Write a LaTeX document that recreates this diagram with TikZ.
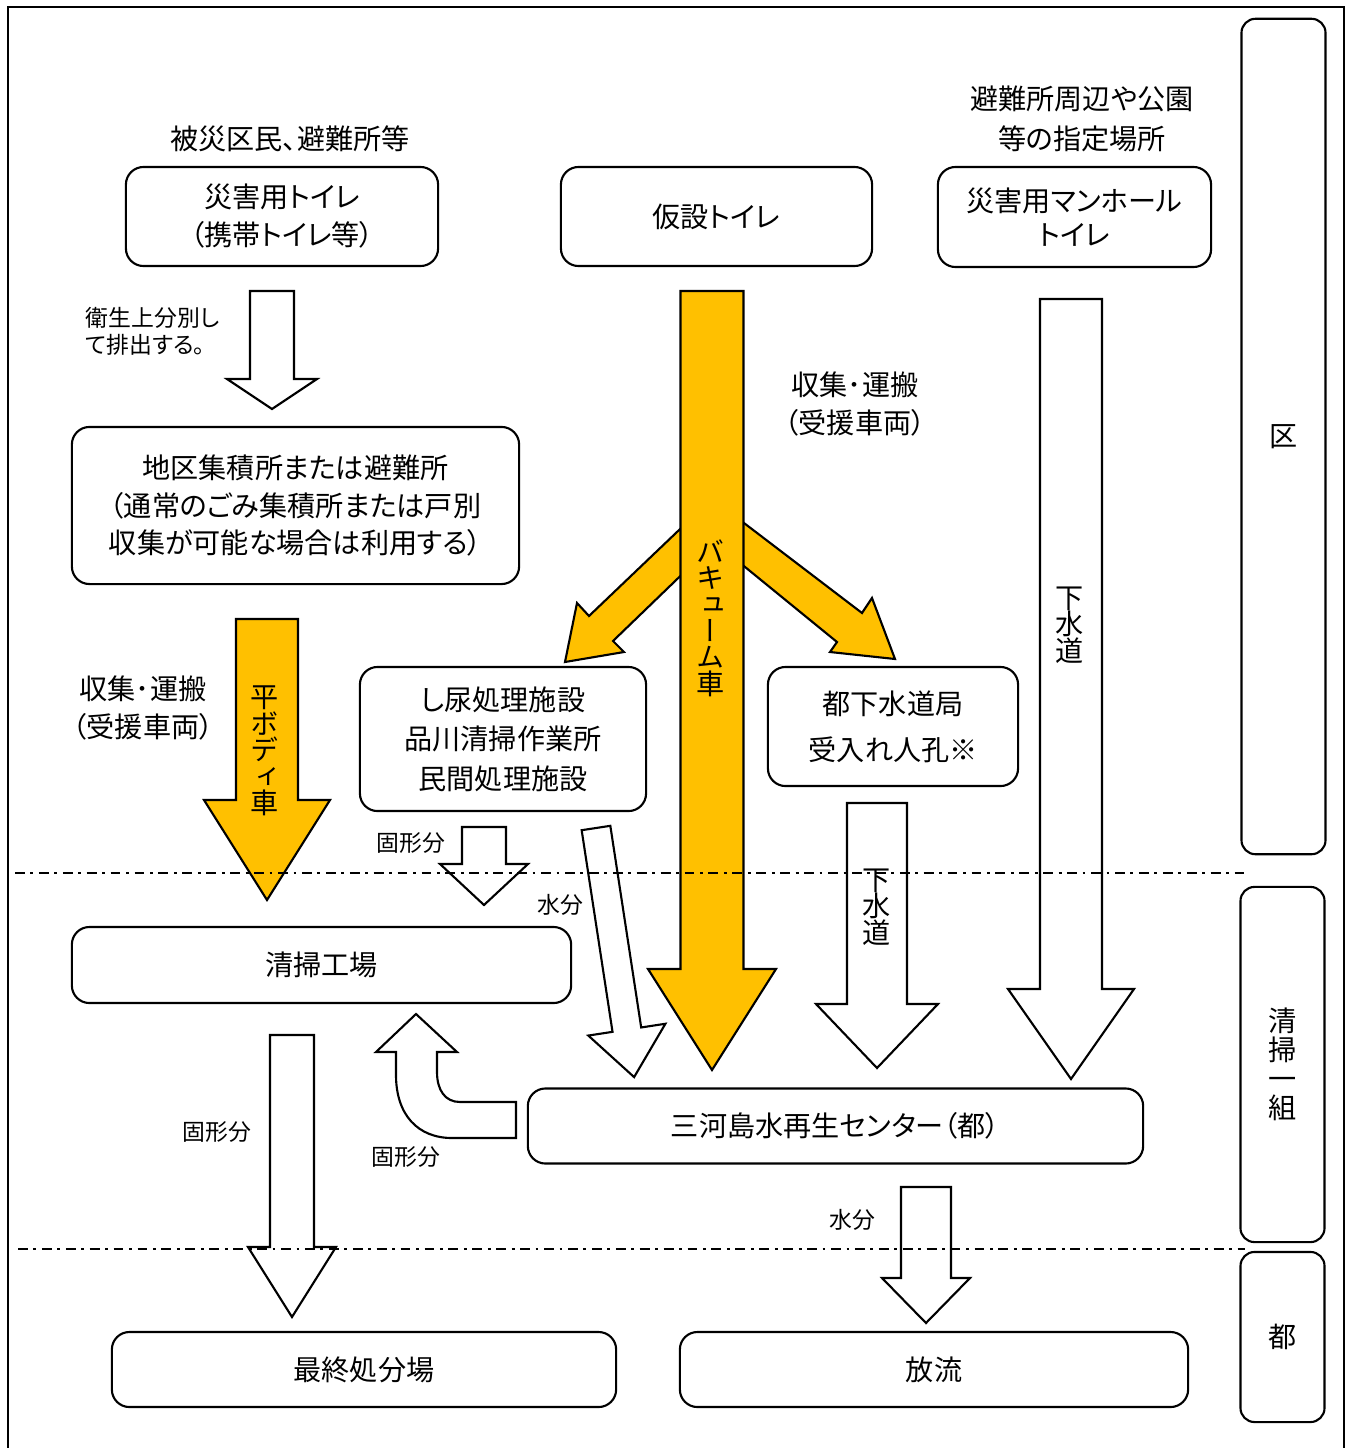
\documentclass[tikz,border=0pt]{standalone}
\usepackage{fontspec}
\setmainfont{Noto Sans CJK JP}[RawFeature=+palt]
\newfontfamily\tatefont[RawFeature=+vert]{Noto Sans CJK JP}
\definecolor{vacuumgold}{HTML}{FFC000}
\newcommand\tatetight{\fontsize{8pt}{7.5pt}\tatefont\lineskiplimit-20pt\relax}
\newcommand\tatewide{\fontsize{8pt}{8.2pt}\tatefont\lineskiplimit-20pt\relax}

% x / top / neck / tip / half shaft / half head
\def\hollowArrows{272/291/379/409/22/45, 484/827/864/905/22/44, 877/803/1004/1068/30/61, 1071/299/989/1079/31/63, 292/1035/1247/1317/22/44, 926/1187/1278/1323/25/44}
\def\goldArrows{267/619/800/900/31/63, 712/291/969/1070/31.5/64}
\def\zones{{(1283.5,436.5)/ward/8.35cm/区}, {(1282.5,1064.5)/clean/3.55cm/清\\掃\\一\\組}, {(1282.5,1337)/metro/1.70cm/都}}

\tikzstyle{box}=[draw, line width=0.6pt, rounded corners=5pt, align=center, inner sep=0pt, font=\fontsize{8pt}{10.8pt}\selectfont]
\tikzstyle{side-box}=[draw, line width=0.6pt, rounded corners=4pt, minimum width=0.84cm, inner sep=0pt]
\tikzstyle{label}=[align=center, inner sep=0pt, font=\fontsize{8pt}{10.8pt}\selectfont]
\tikzstyle{small-label}=[align=left, inner sep=0pt, font=\fontsize{6.5pt}{7.7pt}\selectfont]
\tikzstyle{tate-label}=[align=center, inner sep=0pt, font=\tatetight]
\tikzstyle{hollow arrow}=[draw, line width=0.6pt, fill=white]
\tikzstyle{gold arrow}=[draw, line width=0.6pt, fill=vacuumgold]
\tikzstyle{zone line}=[draw, line width=0.6pt, dash pattern=on 2.8pt off 1.6pt on 0.8pt off 1.6pt]

\begin{document}
\begin{tikzpicture}[x=0.01cm, y=-0.01cm]
  \useasboundingbox (0,0) rectangle (1354,1448);
  \draw[line width=0.6pt] (8,1448) -- (8,7) -- (1344,7) -- (1344,1448);

  % Toilets at the top
  \node[label] (victims) at (290,139) {被災区民、避難所等};
  \node[label, font=\fontsize{8pt}{11.4pt}\selectfont] (places) at (1082,119) {避難所周辺や公園\\等の指定場所};
  \node[box, minimum width=3.12cm, minimum height=0.99cm] (portable) at (282,216.5) {災害用トイレ\\（携帯トイレ等）};
  \node[box, minimum width=3.11cm, minimum height=0.99cm] (temporary) at (716.5,216.5) {仮設トイレ};
  \node[box, minimum width=2.73cm, minimum height=1.00cm] (manhole) at (1074.5,217) {災害用マンホール\\[-1.1pt]トイレ};

  % Collection and treatment
  \node[box, minimum width=4.47cm, minimum height=1.57cm] (collect) at (295.5,505.5) {地区集積所または避難所\\（通常のごみ集積所または戸別\\収集が可能な場合は利用する）};
  \node[box, minimum width=2.86cm, minimum height=1.44cm] (nightsoil) at (503,739) {し尿処理施設\\[0.4pt]品川清掃作業所\\[0.4pt]民間処理施設};
  \node[box, minimum width=2.50cm, minimum height=1.19cm] (sewerhole) at (893,726.5) {都下水道局\\[2.3pt]受入れ人孔※};
  \node[box, minimum width=4.99cm, minimum height=0.76cm] (plant) at (321.5,965) {清掃工場};
  \node[box, minimum width=6.15cm, minimum height=0.75cm] (mikawa) at (835.5,1126) {三河島水再生センター（都）};
  \node[box, minimum width=5.04cm, minimum height=0.75cm] (landfill) at (364,1369.5) {最終処分場};
  \node[box, minimum width=5.08cm, minimum height=0.75cm] (discharge) at (934,1369.5) {放流};

  % Vacuum car branches, under the main shaft
  \path[gold arrow] (700,510) -- (589,616) -- (577,603) -- (565,662) -- (624,652) -- (613,641) -- (700,557) -- cycle;
  \path[gold arrow] (723,507) -- (862,613) -- (872,598) -- (895,659) -- (830,652) -- (837,642) -- (723,549) -- cycle;

  \foreach \x/\ytop/\yneck/\ytip/\hs/\hh in \goldArrows {
    \path[gold arrow] (\x-\hs,\ytop) -- (\x+\hs,\ytop) -- (\x+\hs,\yneck) -- (\x+\hh,\yneck)
      -- (\x,\ytip) -- (\x-\hh,\yneck) -- (\x-\hs,\yneck) -- cycle;
    }

  \foreach \x/\ytop/\yneck/\ytip/\hs/\hh in \hollowArrows {
    \path[hollow arrow] (\x-\hs,\ytop) -- (\x+\hs,\ytop) -- (\x+\hs,\yneck) -- (\x+\hh,\yneck)
      -- (\x,\ytip) -- (\x-\hh,\yneck) -- (\x-\hs,\yneck) -- cycle;
    }

  % Water from the night soil plant
  \begin{scope}[shift={(596,828)}, rotate=8.7]
    \path[hollow arrow] (-14.5,0) -- (14.5,0) -- (14.5,204) -- (39,204) -- (0,252) -- (-39,204) -- (-14.5,204) -- cycle;
  \end{scope}

  % Solids back to the plant
  \path[hollow arrow] (516,1102) -- (460,1102) .. controls (445,1102) and (437,1090) .. (437,1072)
    -- (437,1052) -- (457,1052) -- (416,1014) -- (376,1052) -- (396,1052) -- (396,1075)
    .. controls (396,1115) and (418,1138) .. (452,1138) -- (516,1138) -- cycle;

  % Labels
  \node[small-label, anchor=west] (sorting) at (85,331.5) {衛生上分別し\\て排出する。};
  \node[label] (transportA) at (855,404) {収集･運搬\\（受援車両）};
  \node[label] (transportB) at (143,708) {収集･運搬\\（受援車両）};
  \node[small-label] (solidA) at (411,843) {固形分};
  \node[small-label] (waterA) at (560,905) {水分};
  \node[small-label] (solidB) at (217,1132) {固形分};
  \node[small-label] (solidC) at (406,1157) {固形分};
  \node[small-label] (waterB) at (852,1220) {水分};
  \node[tate-label] (flatbody) at (265,751) {平\\ボ\\デ\\ィ\\車};
  \node[tate-label] (vacuum) at (711,618) {バ\\キ\\ュ\\ー\\ム\\車};
  \node[tate-label] (sewerA) at (877,907) {下\\水\\道};
  \node[tate-label] (sewerB) at (1070,625) {下\\水\\道};

  % Who is in charge
  \foreach \pos/\name/\len/\txt in \zones {
    \node[side-box, minimum height=\len] (\name) at \pos {};
    \node[tate-label, font=\tatewide] (\name-text) at \pos {\txt};
    }

  % Zone boundaries
  \path[zone line] (15,873) -- (1245,873);
  \path[zone line] (18,1249) -- (1245,1249);
\end{tikzpicture}
\end{document}
